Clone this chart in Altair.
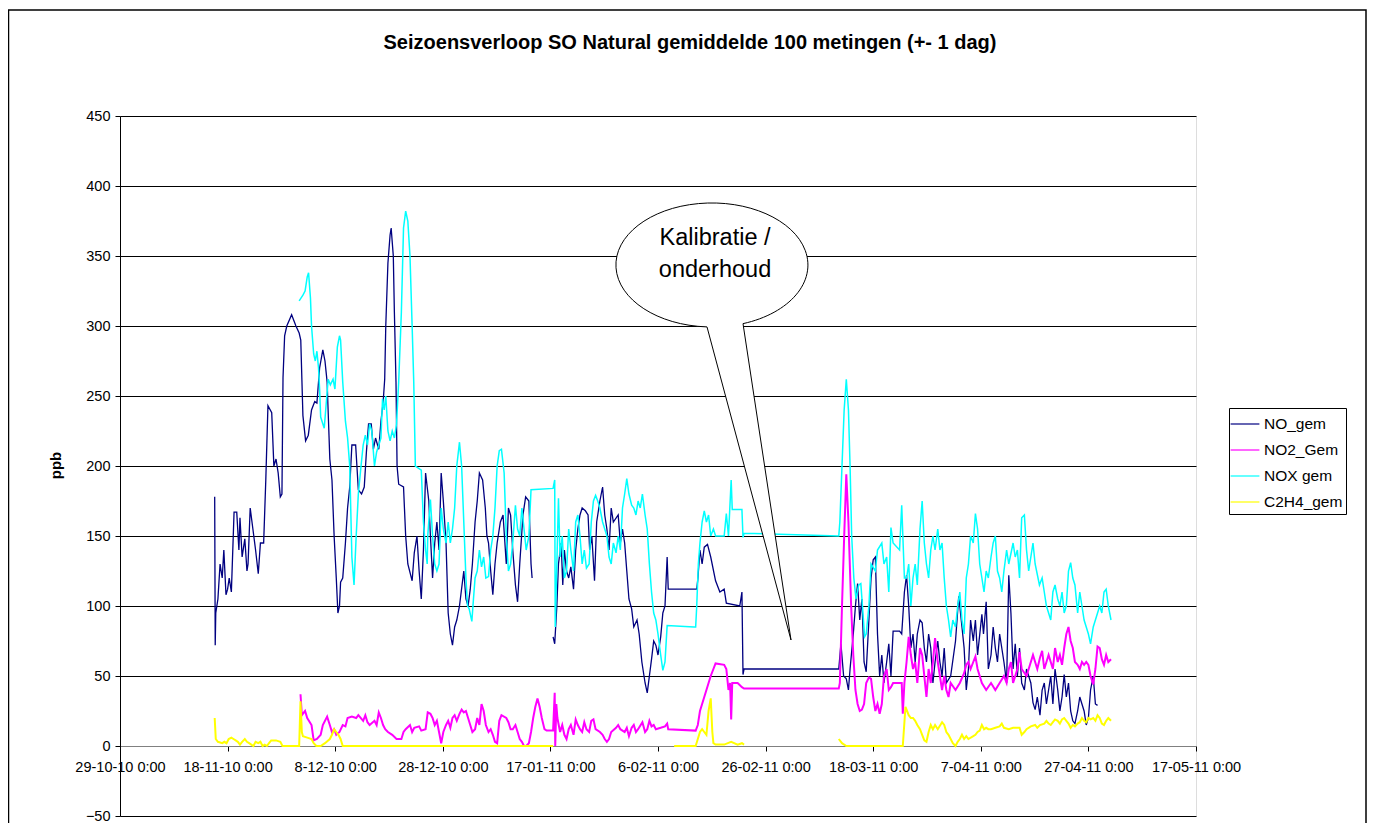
import altair as alt
import pandas as pd

# ---------------- data (day = days since 29-10-10 0:00, value in ppb) ----------------
SERIES = ["NO_gem", "NO2_Gem", "NOX gem", "C2H4_gem"]
COLORS = ["#000080", "#FF00FF", "#00FFFF", "#FFFF00"]
X_TICK_DAYS = [0, 20, 40, 60, 80, 100, 120, 140, 160, 180, 200]
Y_TICKS = [-50, 0, 50, 100, 150, 200, 250, 300, 350, 400, 450]
TITLE = "Seizoensverloop SO Natural gemiddelde 100 metingen (+- 1 dag)"
CALLOUT = ["Kalibratie /", "onderhoud"]

# None marks a gap in the record
NO_GEM = [
    (17.6, 178), (17.7, 72), (17.8, 95), (18.2, 105), (18.6, 130), (19.0, 120), (19.3, 140),
    (19.7, 108), (20.0, 112), (20.3, 120), (20.7, 110), (21.2, 167), (21.7, 167), (22.1, 140),
    (22.3, 163), (22.7, 135), (23.2, 148), (23.6, 125), (23.8, 130), (24.2, 170), (24.7, 155),
    (25.2, 140), (25.7, 123), (26.1, 145), (26.7, 145), (27.1, 190), (27.5, 243), (28.2, 238),
    (28.6, 200), (29.0, 205), (29.4, 195), (29.8, 178), (30.1, 180), (30.3, 263), (30.6, 293),
    (31.0, 300), (31.9, 308), (32.7, 300), (33.3, 295), (33.6, 290), (34.0, 236), (34.5, 218),
    (35.0, 222), (35.6, 240), (36.2, 246), (36.6, 245), (37.1, 270), (37.7, 283), (38.1, 275),
    (38.5, 260), (39.0, 205), (39.4, 190), (39.8, 150), (40.2, 120), (40.5, 95), (40.8, 100),
    (41.0, 117), (41.4, 120), (41.9, 145), (42.3, 170), (42.7, 185), (43.1, 215), (43.8, 215),
    (44.3, 183), (44.9, 180), (45.4, 185), (45.8, 210), (46.2, 230), (46.7, 230), (47.1, 212),
    (47.5, 220), (48.1, 212), (48.5, 232), (48.9, 245), (49.2, 262), (49.4, 300), (49.8, 345),
    (50.2, 365), (50.4, 370), (50.8, 350), (51.0, 310), (51.3, 260), (51.5, 200), (51.8, 187),
    (52.7, 185), (53.1, 150), (53.5, 130), (54.3, 118), (54.7, 138), (55.2, 150), (55.6, 125),
    (56.0, 105), (56.4, 140), (56.8, 195), (57.4, 175), (57.7, 150), (58.1, 120), (58.5, 145),
    (58.9, 160), (59.3, 140), (59.7, 195), (60.1, 175), (60.6, 145), (61.0, 95), (61.4, 80),
    (61.8, 72), (62.2, 85), (62.6, 90), (63.1, 100), (63.9, 125), (64.3, 105), (64.7, 100),
    (65.1, 112), (65.5, 130), (66.0, 160), (66.4, 175), (66.8, 195), (67.4, 190), (67.9, 170),
    (68.2, 150), (68.5, 145), (68.9, 125), (69.3, 108), (69.7, 130), (70.1, 145), (70.7, 160),
    (71.2, 165), (71.8, 130), (72.2, 170), (72.6, 165), (73.0, 140), (73.5, 115), (73.9, 103),
    (74.3, 130), (74.9, 165), (75.4, 178), (76.0, 175), (76.4, 130), (76.6, 120),
    None,
    (80.5, 78), (80.8, 73), (81.2, 100), (81.5, 130), (82.0, 145), (82.3, 115), (82.6, 140),
    (83.0, 125), (83.4, 120), (83.8, 128), (84.3, 112), (84.7, 140), (85.1, 155), (85.5, 165),
    (85.9, 170), (86.5, 168), (87.0, 165), (87.3, 140), (87.7, 150), (88.2, 118), (88.6, 160),
    (89.2, 175), (89.7, 185), (90.1, 165), (90.5, 155), (90.9, 140), (91.3, 170), (91.7, 160),
    (92.6, 165), (93.0, 145), (93.4, 155), (93.8, 145), (94.2, 125), (94.6, 105), (95.1, 98),
    (95.5, 85), (96.1, 90), (96.5, 80), (97.0, 60), (97.6, 45), (98.0, 38), (98.4, 50),
    (98.8, 62), (99.2, 75), (99.6, 72), (100.0, 65), (100.5, 78), (100.9, 95), (101.3, 100),
    (101.7, 135), (101.9, 112), (107.2, 112), (107.4, 119), (107.8, 140), (108.2, 130),
    (108.6, 142), (109.2, 144), (109.8, 135), (110.7, 118), (111.5, 110), (112.3, 112),
    (112.7, 102), (115.2, 100), (115.6, 110), (115.8, 51), (116.0, 55), (133.6, 55),
    (134.0, 73), (134.5, 50), (135.0, 48), (135.4, 40), (135.7, 55), (136.3, 80), (136.7, 100),
    (137.1, 116), (137.5, 90), (137.9, 105), (138.3, 60), (138.7, 53), (139.2, 90), (139.6, 120),
    (140.0, 133), (140.4, 135), (140.8, 80), (141.2, 50), (141.6, 65), (142.0, 45), (142.5, 60),
    (142.9, 73), (143.3, 50), (143.7, 82), (144.9, 82), (145.3, 80), (145.8, 110), (146.2, 122),
    (146.6, 100), (147.0, 70), (147.4, 80), (147.8, 60), (148.2, 80), (148.7, 90), (149.1, 88),
    (149.5, 70), (149.9, 60), (150.3, 80), (150.7, 70), (151.1, 45), (151.5, 60), (152.0, 75),
    (152.4, 60), (152.8, 50), (153.2, 70), (153.6, 45), (154.4, 50), (155.3, 75), (155.9, 107),
    (156.5, 85), (156.9, 70), (157.3, 40), (157.7, 55), (158.1, 90), (158.6, 75), (159.0, 90),
    (159.4, 65), (160.2, 94), (160.5, 80), (161.0, 103), (161.4, 55), (161.9, 65), (162.3, 85),
    (162.7, 70), (163.1, 60), (163.5, 80), (164.3, 60), (164.8, 45), (165.2, 122), (165.6, 95),
    (166.0, 55), (166.4, 73), (166.8, 50), (167.2, 70), (167.6, 45), (168.1, 40), (168.5, 55),
    (169.3, 45), (169.7, 31), (170.1, 26), (170.5, 35), (171.0, 22), (171.4, 40), (171.8, 45),
    (172.2, 30), (172.6, 40), (173.0, 50), (173.4, 30), (173.8, 55), (174.3, 40), (174.7, 25),
    (175.1, 35), (175.5, 51), (175.9, 35), (176.3, 45), (176.7, 25), (177.1, 18), (177.5, 16),
    (178.0, 25), (178.4, 35), (178.8, 30), (179.2, 25), (179.6, 15), (180.0, 20), (180.4, 40),
    (180.9, 50), (181.3, 30), (181.7, 29),
]

NO2_GEM = [
    (33.55, 37), (33.8, 22), (34.4, 25), (34.8, 20), (35.6, 15), (36.0, 4), (36.6, 5), (37.3, 8),
    (37.7, 15), (38.5, 21), (39.0, 15), (39.4, 10), (39.8, 12), (40.2, 8), (40.8, 10), (41.4, 15),
    (41.9, 14), (42.3, 20), (43.1, 21), (43.9, 20), (44.3, 22), (45.2, 18), (45.6, 22), (46.0, 17),
    (46.4, 15), (47.3, 18), (47.7, 15), (48.1, 24), (48.5, 20), (48.9, 15), (49.3, 12), (49.8, 10),
    (50.6, 8), (51.4, 5), (52.3, 5), (52.7, 10), (53.1, 12), (53.9, 15), (54.3, 10), (54.7, 13),
    (55.6, 14), (56.0, 11), (56.8, 12), (57.2, 24), (57.7, 23), (58.1, 20), (58.5, 15), (58.9, 18),
    (59.3, 10), (59.7, 2), (60.1, 10), (60.6, 15), (61.0, 18), (61.4, 13), (61.8, 20), (62.2, 22),
    (62.6, 18), (63.1, 23), (63.5, 26), (63.9, 24), (64.3, 25), (64.7, 20), (65.1, 15), (65.5, 10),
    (66.0, 12), (66.4, 20), (66.8, 15), (67.2, 30), (67.6, 25), (68.0, 15), (68.5, 10), (68.9, 12),
    (69.3, 8), (69.7, 3), (70.1, 2), (70.5, 18), (70.9, 22), (71.8, 20), (72.2, 17), (72.6, 12),
    (73.0, 12), (73.5, 15), (73.9, 10), (74.3, 5), (74.7, 3), (75.1, 0), (75.5, 0), (76.0, 2),
    (76.4, 10), (76.8, 20), (77.2, 28), (77.6, 34), (78.0, 28), (78.4, 20), (78.9, 12), (79.3, 11),
    (80.5, 11), (80.8, 38), (80.9, 0), (81.1, 30), (81.3, 20), (81.8, 10), (82.2, 15), (82.6, 8),
    (83.0, 5), (83.4, 12), (83.8, 15), (84.3, 8), (84.7, 19), (85.1, 15), (85.5, 12), (85.9, 10),
    (86.3, 17), (86.7, 12), (87.2, 10), (87.6, 18), (88.0, 19), (88.4, 12), (89.2, 10), (89.7, 8),
    (90.1, 5), (90.5, 3), (90.9, 5), (91.3, 10), (92.2, 13), (92.6, 15), (93.0, 12), (93.8, 10),
    (94.2, 13), (94.6, 7), (95.1, 13), (95.5, 15), (95.9, 10), (96.3, 12), (97.1, 17), (97.6, 10),
    (98.0, 12), (98.4, 18), (98.8, 14), (99.2, 15), (99.6, 12), (100.5, 13), (101.3, 14),
    (101.7, 16), (101.9, 12), (107.0, 11), (107.4, 15), (107.8, 25), (108.2, 30), (108.6, 35),
    (109.0, 40), (109.4, 45), (109.8, 50), (110.3, 55), (110.7, 59), (112.3, 58), (112.7, 55),
    (113.1, 40), (113.4, 45), (113.6, 19), (113.8, 45), (114.8, 45), (115.6, 42), (116.0, 41),
    (133.6, 41), (133.8, 45), (134.2, 100), (134.6, 149), (135.0, 194), (135.4, 160), (135.9, 100),
    (136.3, 65), (136.7, 40), (137.1, 30), (137.5, 25), (137.9, 26), (138.3, 30), (138.7, 45),
    (139.2, 49), (139.6, 48), (140.0, 35), (140.4, 25), (140.8, 30), (141.2, 23), (141.6, 30),
    (142.0, 50), (142.5, 55), (142.9, 40), (143.3, 42), (143.7, 45), (145.3, 45), (145.5, 23),
    (145.8, 45), (146.2, 60), (146.6, 78), (147.0, 65), (147.4, 55), (147.8, 60), (148.2, 45),
    (148.7, 70), (149.1, 65), (149.5, 50), (149.9, 35), (150.3, 55), (150.7, 45), (151.1, 60),
    (151.5, 77), (152.0, 60), (152.4, 50), (152.8, 40), (153.2, 50), (153.6, 40), (154.0, 35),
    (154.4, 45), (155.3, 40), (156.1, 45), (156.9, 52), (157.3, 58), (157.7, 60), (158.1, 55),
    (158.6, 60), (159.0, 64), (159.4, 55), (160.2, 45), (161.0, 40), (161.9, 45), (162.7, 40),
    (163.5, 45), (164.3, 50), (164.8, 45), (165.2, 55), (165.6, 60), (166.0, 45), (166.8, 55),
    (167.2, 67), (167.6, 55), (168.5, 50), (169.3, 60), (169.7, 65), (170.1, 60), (170.5, 55),
    (171.0, 63), (171.4, 68), (171.8, 55), (172.2, 60), (172.6, 65), (173.4, 55), (173.8, 70),
    (174.3, 60), (174.7, 65), (175.1, 58), (175.5, 70), (175.9, 80), (176.3, 85), (176.7, 75),
    (177.1, 70), (177.5, 60), (178.0, 58), (178.4, 55), (178.8, 60), (179.2, 58), (179.6, 60),
    (180.0, 58), (180.4, 50), (180.9, 44), (181.3, 55), (181.7, 71), (182.1, 70), (182.5, 62),
    (182.9, 58), (183.3, 65), (183.7, 60), (184.2, 62),
]

NOX_GEM = [
    (33.3, 318), (34.0, 322), (34.4, 325), (34.8, 335), (35.05, 338), (35.4, 320), (35.6, 300),
    (36.0, 280), (36.3, 275), (36.6, 282), (36.9, 270), (37.1, 255), (37.3, 235), (37.96, 227),
    (38.4, 248), (38.7, 262), (39.1, 258), (39.6, 262), (39.95, 255), (40.4, 285), (40.8, 293),
    (41.0, 290), (41.4, 260), (41.9, 232), (42.3, 220), (42.7, 200), (43.1, 135), (43.5, 115),
    (43.9, 150), (44.3, 180), (44.8, 200), (45.2, 215), (45.6, 222), (46.0, 215), (46.4, 230),
    (46.8, 225), (47.3, 200), (47.7, 210), (48.1, 215), (48.5, 220), (48.8, 248), (49.1, 240),
    (49.4, 250), (49.8, 225), (50.2, 218), (50.6, 225), (51.0, 220), (51.4, 230), (51.8, 260),
    (52.3, 310), (52.7, 370), (53.1, 382), (53.5, 375), (53.9, 350), (54.3, 300), (54.6, 260),
    (54.9, 200), (56.0, 197), (56.4, 160), (56.8, 140), (57.1, 130), (57.2, 150), (57.7, 176),
    (58.1, 150), (58.5, 130), (58.9, 125), (59.3, 130), (59.7, 170), (60.1, 155), (60.6, 145),
    (61.0, 160), (61.4, 145), (61.8, 155), (62.2, 170), (62.6, 200), (63.1, 217), (63.5, 200),
    (63.9, 160), (64.3, 120), (64.6, 100), (64.9, 98), (65.4, 89), (65.7, 105), (66.0, 120),
    (66.4, 125), (66.8, 140), (67.2, 128), (67.6, 135), (68.0, 120), (68.5, 121), (68.9, 140),
    (69.3, 150), (69.7, 170), (70.1, 200), (70.5, 211), (70.9, 212), (71.4, 195), (71.8, 150),
    (72.2, 125), (72.6, 130), (73.0, 145), (73.5, 172), (73.9, 155), (74.3, 150), (74.7, 170),
    (75.1, 155), (75.5, 140), (76.0, 150), (76.4, 183), (80.5, 184), (80.8, 190), (80.9, 85),
    (81.2, 130), (81.5, 177), (81.8, 135), (82.2, 150), (82.6, 120), (83.0, 125), (83.4, 155),
    (83.8, 140), (84.3, 125), (84.7, 160), (85.1, 165), (85.5, 150), (85.9, 130), (86.3, 140),
    (86.7, 127), (87.2, 130), (87.6, 160), (88.0, 175), (88.4, 179), (88.8, 175), (89.2, 170),
    (89.7, 160), (90.5, 150), (90.9, 135), (91.3, 130), (91.7, 145), (92.2, 138), (92.6, 150),
    (93.0, 140), (93.4, 170), (93.8, 180), (94.2, 191), (94.6, 180), (95.1, 172), (95.5, 170),
    (95.9, 165), (96.3, 175), (96.7, 170), (97.1, 180), (97.6, 165), (98.0, 155), (98.4, 130),
    (98.8, 110), (99.2, 95), (99.6, 90), (100.0, 80), (100.5, 65), (100.9, 54), (101.3, 60),
    (101.7, 86), (106.7, 85), (107.0, 85), (107.2, 100), (107.5, 130), (107.8, 145), (108.2, 160),
    (108.6, 168), (109.0, 160), (109.4, 165), (109.8, 150), (110.3, 155), (110.7, 150),
    (112.3, 150), (112.7, 166), (113.1, 150), (113.6, 190), (113.8, 169), (115.6, 169),
    (115.8, 149), (116.0, 152), (133.6, 150), (133.8, 160), (134.2, 200), (134.6, 240),
    (135.0, 262), (135.4, 240), (135.7, 200), (136.0, 150), (136.4, 120), (136.8, 105),
    (137.3, 115), (137.7, 116), (138.1, 95), (138.4, 78), (138.7, 80), (139.2, 100), (139.6, 130),
    (140.4, 125), (140.8, 140), (141.6, 145), (142.0, 130), (142.5, 135), (142.9, 110),
    (143.3, 156), (143.7, 145), (144.9, 140), (145.3, 172), (145.8, 120), (146.2, 120),
    (146.6, 130), (147.0, 100), (147.4, 120), (147.8, 130), (148.2, 115), (148.7, 155),
    (149.1, 175), (149.5, 145), (149.9, 130), (150.3, 120), (150.7, 140), (151.1, 150),
    (151.5, 140), (152.0, 155), (152.4, 140), (152.8, 145), (153.2, 120), (153.6, 100), (154.0, 90),
    (154.4, 78), (154.8, 90), (155.3, 85), (155.7, 100), (156.1, 110), (156.5, 90), (156.9, 80),
    (157.3, 120), (157.7, 130), (158.1, 150), (158.6, 145), (159.0, 166), (159.4, 155),
    (159.8, 130), (160.2, 120), (160.6, 110), (161.0, 125), (161.4, 120), (161.9, 135),
    (162.3, 145), (162.7, 150), (163.1, 125), (163.5, 120), (163.9, 110), (164.3, 125),
    (164.8, 140), (165.2, 130), (166.0, 145), (166.4, 135), (166.8, 140), (167.2, 120),
    (167.6, 163), (168.1, 165), (168.5, 140), (168.9, 125), (169.3, 135), (169.7, 145),
    (170.1, 130), (170.9, 115), (171.4, 120), (171.8, 110), (172.2, 100), (172.6, 95), (173.0, 90),
    (173.4, 110), (173.8, 115), (174.3, 105), (174.7, 100), (175.1, 110), (175.5, 95), (175.9, 100),
    (176.3, 125), (176.7, 131), (177.1, 120), (177.5, 115), (178.0, 95), (178.4, 110),
    (178.8, 100), (179.2, 90), (179.6, 85), (180.0, 80), (180.4, 73), (180.9, 85), (181.3, 90),
    (181.7, 95), (182.1, 100), (182.5, 95), (182.9, 110), (183.3, 112), (183.7, 100), (184.2, 90),
]

C2H4_GEM = [
    (17.6, 20), (17.8, 5), (18.2, 3), (19.0, 2), (19.4, 3), (19.8, 2), (20.2, 5), (20.7, 6),
    (21.1, 5), (21.5, 4), (21.9, 3), (22.3, 1), (22.7, 3), (23.2, 5), (23.6, 3), (24.0, 2),
    (24.4, 1), (24.8, 0), (25.2, 3), (25.7, 2), (26.1, 3), (26.5, 0), (26.9, 1), (27.3, 0),
    (27.7, 2), (28.1, 4), (29.0, 4), (29.8, 3), (30.2, 0), (33.3, 0), (33.55, 32), (33.8, 10),
    (34.0, 7), (34.8, 6), (35.6, 5), (36.0, 2), (36.5, 0), (37.3, 0), (38.1, 2), (39.0, 5),
    (39.4, 8), (39.8, 12), (40.2, 10), (40.6, 8), (41.0, 5), (41.4, 0), (80.5, 0),
    None,
    (103.0, 0), (107.0, 0), (107.4, 5), (107.8, 10), (108.2, 12), (108.6, 10), (109.0, 8),
    (109.4, 25), (109.8, 34), (110.1, 10), (110.3, 2), (110.7, 1), (112.3, 1), (113.6, 3),
    (114.8, 1), (115.6, 2), (116.0, 1),
    None,
    (133.6, 5), (134.2, 2), (135.0, 0), (145.5, 0), (146.0, 28), (146.6, 22), (147.0, 20),
    (147.4, 20), (147.8, 18), (148.2, 15), (148.7, 12), (149.1, 8), (149.5, 4), (149.9, 3),
    (150.3, 10), (150.7, 15), (151.1, 12), (151.5, 15), (152.0, 12), (152.8, 17), (153.2, 15),
    (153.6, 10), (154.0, 8), (154.4, 5), (154.8, 2), (155.3, 0), (155.7, 3), (156.1, 5),
    (156.5, 8), (156.9, 5), (157.3, 7), (157.7, 5), (158.6, 7), (159.0, 8), (159.4, 10),
    (159.8, 11), (160.2, 15), (160.6, 12), (161.0, 13), (161.4, 12), (161.9, 12), (162.7, 13),
    (163.5, 14), (163.9, 16), (164.3, 13), (165.2, 12), (166.0, 13), (167.2, 13), (167.6, 8),
    (168.1, 10), (168.5, 12), (169.3, 14), (170.1, 15), (170.5, 13), (171.0, 15), (171.8, 16),
    (172.2, 18), (172.6, 16), (173.0, 15), (173.4, 17), (173.8, 19), (174.3, 18), (174.7, 16),
    (175.1, 19), (175.5, 20), (175.9, 18), (176.3, 16), (176.7, 13), (177.1, 15), (177.5, 14),
    (178.0, 16), (178.4, 17), (178.8, 20), (179.2, 18), (179.6, 17), (180.0, 20), (180.4, 19),
    (180.9, 20), (181.3, 18), (181.7, 22), (182.1, 20), (182.5, 16), (182.9, 15), (183.3, 18),
    (183.7, 20), (184.2, 18),
]

# ---------------- build table ----------------
rows = []
for name, pts in zip(SERIES, [NO_GEM, NO2_GEM, NOX_GEM, C2H4_GEM]):
    seg = 0
    for p in pts:
        if p is None:
            seg += 1
            continue
        rows.append({"series": name, "seg": f"{name}-{seg}", "day": p[0], "ppb": p[1]})
df = pd.DataFrame(rows)

FONT = "Liberation Sans"
LABEL_EXPR = "timeFormat(datetime(2010, 9, 29 + datum.value), '%-d-%m-%y %-H:%M')"

x_scale = alt.Scale(domain=[0, 200], nice=False, zero=False)
y_scale = alt.Scale(domain=[-50, 450], nice=False, zero=False)
x_axis = alt.Axis(values=X_TICK_DAYS, labelExpr=LABEL_EXPR, offset=-70, grid=False,
                  domainColor="#808080", tickColor="black", tickSize=5, labelFontSize=14.5,
                  labelColor="black", labelPadding=9, labelFlush=False, labelOverlap=False,
                  labelFont=FONT, title=None)
y_axis = alt.Axis(values=Y_TICKS, grid=True,
                  gridColor=alt.condition("datum.value === 0", alt.value("#808080"), alt.value("black")),
                  domainColor="black", tickColor="black", tickSize=5, labelFontSize=14.5,
                  labelColor="black", labelPadding=5, labelFont=FONT,
                  title="ppb", titleFontSize=15, titleFontWeight="bold", titleColor="black",
                  titleFont=FONT, titleX=-65, titleY=349, titleBaseline="middle")
color_scale = alt.Scale(domain=SERIES, range=COLORS)
legend = alt.Legend(orient="none", legendX=1109, legendY=292, title=None,
                    strokeColor="black", fillColor="white", padding=3, rowPadding=4,
                    symbolType="M-1.2,0H1.2", symbolSize=576, symbolStrokeWidth=1.2,
                    labelFontSize=15.5, labelFont=FONT, labelColor="black", labelOffset=6)

widths = {"NO_gem": 1.3, "NO2_Gem": 2.0, "NOX gem": 1.5, "C2H4_gem": 2.0}
lines = []
for name in SERIES:
    lines.append(
        alt.Chart(df[df.series == name]).mark_line(strokeWidth=widths[name]).encode(
            x=alt.X("day:Q", scale=x_scale, axis=x_axis),
            y=alt.Y("ppb:Q", scale=y_scale, axis=y_axis),
            color=alt.Color("series:N", scale=color_scale, legend=legend),
            detail="seg:N",
        )
    )

one = pd.DataFrame({"a": [0]})

border = alt.Chart(one).mark_rect(filled=False, stroke="black", strokeWidth=1.5).encode(
    x=alt.value(-111.5), x2=alt.value(1246), y=alt.value(-106), y2=alt.value(760)
)

BUBBLE_PATH = ("M -0.052 0.645 L 0.823 3.906 L 0.323 0.611 "
               "A 1 0.646 0 1 0 -0.052 0.645 Z")
bubble = alt.Chart(one).mark_point(
    shape=BUBBLE_PATH, size=36864, filled=True, fill="white", stroke="black",
    strokeWidth=1, opacity=1, fillOpacity=1
).encode(x=alt.value(592), y=alt.value(149))

bubble_text = alt.Chart(one).mark_text(
    text=CALLOUT, fontSize=23.5, font=FONT, color="black", align="center",
    baseline="alphabetic", lineHeight=32
).encode(x=alt.value(595), y=alt.value(129))

title = alt.Chart(one).mark_text(
    text=TITLE, fontSize=20, fontWeight="bold", font=FONT, color="black",
    align="center", baseline="alphabetic"
).encode(x=alt.value(570), y=alt.value(-67))

chart = alt.layer(border, *lines, bubble, bubble_text, title).properties(
    width=1076, height=700,
    autosize=alt.AutoSizeParams(type="none"),
    padding={"left": 112, "top": 108, "right": 171, "bottom": 7},
).configure_view(stroke="#808080", strokeWidth=1).configure(font=FONT, background="white")

chart.save("out.html", embed_options={"renderer": "svg", "actions": False})
